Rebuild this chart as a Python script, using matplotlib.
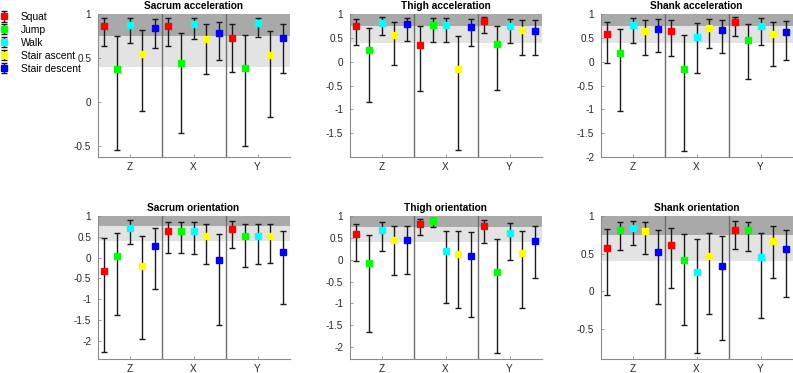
import matplotlib
matplotlib.use("Agg")
import matplotlib.pyplot as plt
from matplotlib.ticker import FuncFormatter
import numpy as np

plt.rcParams['font.family'] = ['Liberation Sans', 'DejaVu Sans']

activities = ["Squat", "Jump", "Walk", "Stair ascent", "Stair descent"]
colors = ["#ff0000", "#00ff00", "#00ffff", "#ffff00", "#0000ff"]
axes_labels = ["Z", "X", "Y"]
titles = ["Sacrum acceleration", "Thigh acceleration", "Shank acceleration",
          "Sacrum orientation", "Thigh orientation", "Shank orientation"]

# each panel: [activity][axis] -> value / upper / lower  (axis order Z, X, Y)
sacrum_acc_val = [[0.86, 0.86, 0.73], [0.38, 0.45, 0.39], [0.87, 0.89, 0.90], [0.55, 0.72, 0.53], [0.84, 0.79, 0.73]]
sacrum_acc_hi = [[0.95, 0.95, 0.89], [0.75, 0.78, 0.76], [0.95, 0.96, 0.96], [0.82, 0.89, 0.81], [0.94, 0.91, 0.89]]
sacrum_acc_lo = [[0.64, 0.64, 0.34], [-0.54, -0.35, -0.50], [0.67, 0.72, 0.74], [-0.10, 0.32, -0.17], [0.61, 0.48, 0.33]]

thigh_acc_val = [[0.75, 0.35, 0.85], [0.25, 0.77, 0.37], [0.82, 0.77, 0.75], [0.56, -0.16, 0.66], [0.78, 0.72, 0.65]]
thigh_acc_hi = [[0.90, 0.74, 0.93], [0.70, 0.91, 0.75], [0.93, 0.91, 0.90], [0.83, 0.53, 0.87], [0.91, 0.89, 0.87]]
thigh_acc_lo = [[0.36, -0.61, 0.61], [-0.85, 0.42, -0.59], [0.55, 0.42, 0.39], [-0.08, -1.85, 0.15], [0.44, 0.32, 0.15]]

shank_acc_val = [[0.59, 0.65, 0.83], [0.18, -0.15, 0.46], [0.77, 0.51, 0.75], [0.65, 0.71, 0.57], [0.69, 0.67, 0.62]]
shank_acc_hi = [[0.84, 0.87, 0.93], [0.68, 0.55, 0.79], [0.92, 0.82, 0.91], [0.87, 0.89, 0.83], [0.89, 0.88, 0.86]]
shank_acc_lo = [[-0.03, 0.11, 0.53], [-1.04, -1.87, -0.36], [0.39, -0.23, 0.36], [0.13, 0.28, -0.10], [0.21, 0.18, 0.03]]

sacrum_ori_val = [[-0.33, 0.64, 0.69], [0.03, 0.64, 0.52], [0.72, 0.64, 0.52], [-0.21, 0.53, 0.53], [0.29, -0.06, 0.14]]
sacrum_ori_hi = [[0.47, 0.85, 0.87], [0.60, 0.85, 0.80], [0.90, 0.85, 0.80], [0.51, 0.80, 0.80], [0.71, 0.56, 0.65]]
sacrum_ori_lo = [[-2.28, 0.12, 0.24], [-1.39, 0.12, -0.23], [0.33, 0.09, -0.16], [-1.97, -0.16, -0.14], [-0.76, -1.62, -1.11]]

thigh_ori_val = [[0.59, 0.82, 0.76], [-0.08, 0.88, -0.27], [0.67, 0.19, 0.60], [0.45, 0.14, 0.16], [0.46, 0.08, 0.43]]
thigh_ori_hi = [[0.82, 0.93, 0.90], [0.56, 0.95, 0.48], [0.87, 0.66, 0.84], [0.77, 0.65, 0.65], [0.77, 0.63, 0.76]]
thigh_ori_lo = [[-0.02, 0.56, 0.39], [-1.65, 0.74, -2.13], [0.21, -0.99, 0.0], [-0.34, -1.11, -1.11], [-0.32, -1.30, -0.41]]

shank_ori_val = [[0.57, 0.61, 0.82], [0.81, 0.41, 0.82], [0.84, 0.26, 0.46], [0.80, 0.47, 0.67], [0.52, 0.33, 0.56]]
shank_ori_hi = [[0.83, 0.84, 0.93], [0.92, 0.76, 0.92], [0.94, 0.70, 0.78], [0.92, 0.78, 0.87], [0.81, 0.73, 0.82]]
shank_ori_lo = [[-0.05, 0.04, 0.56], [0.55, -0.45, 0.54], [0.61, -0.82, -0.35], [0.50, -0.30, 0.18], [-0.17, -0.65, -0.08]]

panels = [
    (sacrum_acc_val, sacrum_acc_hi, sacrum_acc_lo, (-0.62, 1.0), [-0.5, 0, 0.5, 1]),
    (thigh_acc_val, thigh_acc_hi, thigh_acc_lo, (-2.0, 1.0), [-1.5, -1, -0.5, 0, 0.5, 1]),
    (shank_acc_val, shank_acc_hi, shank_acc_lo, (-2.0, 1.0), [-2, -1.5, -1, -0.5, 0, 0.5, 1]),
    (sacrum_ori_val, sacrum_ori_hi, sacrum_ori_lo, (-2.44, 1.0), [-2, -1.5, -1, -0.5, 0, 0.5, 1]),
    (thigh_ori_val, thigh_ori_hi, thigh_ori_lo, (-2.27, 1.0), [-2, -1.5, -1, -0.5, 0, 0.5, 1]),
    (shank_ori_val, shank_ori_hi, shank_ori_lo, (-0.9, 1.0), [-0.5, 0, 0.5, 1]),
]

W, H = 793, 373
fig = plt.figure(figsize=(W / 100, H / 100), dpi=100)
lefts = [97.5, 349.5, 600.5]
tops = [14, 216]
aw, ah = 192, 143

offsets = [-0.4, -0.2, 0.0, 0.2, 0.4]
fmt = FuncFormatter(lambda v, p: ("%g" % v))
handles = []
for idx, (val, hi, lo, ylim, yt) in enumerate(panels):
    r, c = divmod(idx, 3)
    ax = fig.add_axes([lefts[c] / W, 1 - (tops[r] + ah) / H, aw / W, ah / H])
    ax.axhspan(0.75, 1.0, color="#a9a9a9", lw=0, zorder=0)
    ax.axhspan(0.4, 0.75, color="#e3e3e3", lw=0, zorder=0)
    for xd in [1.5, 2.5]:
        ax.axvline(xd, color="#6e6e6e", lw=1.0, zorder=1)
    x0 = np.arange(1, 4)
    for a in range(5):
        v = np.array(val[a]); h = np.array(hi[a]); l = np.array(lo[a])
        eb = ax.errorbar(x0 + offsets[a], v, yerr=[v - l, h - v], fmt="s",
                         color=colors[a], mfc=colors[a], mec=colors[a], ms=5.0,
                         ecolor="#1a1a1a", elinewidth=1.0, capsize=2.3, capthick=1.0,
                         zorder=3)
        if idx == 0:
            handles.append(eb)
    ax.set_xlim(0.5, 3.5)
    ax.set_ylim(*ylim)
    ax.set_xticks([1, 2, 3])
    ax.set_xticklabels(axes_labels)
    ax.set_yticks(yt)
    ax.yaxis.set_major_formatter(fmt)
    for s in ["top", "right"]:
        ax.spines[s].set_visible(False)
    for s in ["left", "bottom"]:
        ax.spines[s].set_color("#8c8c8c")
        ax.spines[s].set_linewidth(0.8)
    ax.tick_params(axis="y", direction="in", length=2.5, width=0.6, colors="#8c8c8c",
                   labelcolor="#262626", labelsize=7.2, pad=4.5)
    ax.tick_params(axis="x", direction="in", length=2.5, width=0.6, colors="#8c8c8c",
                   labelcolor="#262626", labelsize=7.2, pad=3.5)
    ax.set_title(titles[idx], fontsize=7.3, fontweight="bold", pad=3.5, color="#000000")

fig.legend(handles, activities, loc="upper left", bbox_to_anchor=(0.0, 1 - 12 / H),
           frameon=False, fontsize=7.4, handlelength=0.8, handletextpad=1.2,
           labelspacing=0.28, borderaxespad=0, borderpad=0.0, markerscale=0.9)

fig.savefig("out.png", dpi=100)
